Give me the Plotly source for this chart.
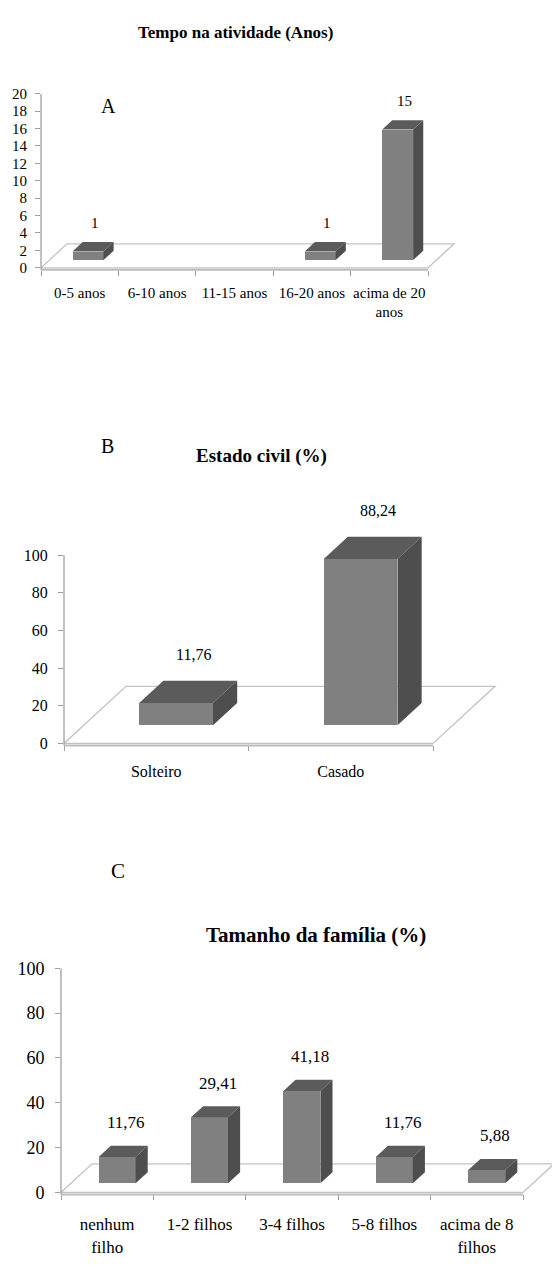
import plotly.graph_objects as go

W, H = 552, 1267
FONT = "Liberation Serif, Times New Roman, DejaVu Serif, serif"

# ---- data -------------------------------------------------------------
tempo_cats = ["0-5 anos", "6-10 anos", "11-15 anos", "16-20 anos", "acima de 20<br>anos"]
tempo_vals = [1, 0, 0, 1, 15]

civil_cats = ["Solteiro", "Casado"]
civil_vals = [11.76, 88.24]

familia_cats = ["nenhum<br>filho", "1-2 filhos", "3-4 filhos", "5-8 filhos", "acima de 8<br>filhos"]
familia_vals = [11.76, 29.41, 41.18, 11.76, 5.88]

# ---- styling / layout of each panel ---------------------------------
# box = (left px, px of the top tick, right px of front floor edge, px of zero)
panels = [
    dict(cats=tempo_cats, vals=tempo_vals, ymax=20, dtick=2, yroom=20,
         box=(41, 85, 428, 261.5), ext=0.36,
         fs_tick=15, fs_cat=15, fs_val=15, decimals=0, label_gap=19,
         title="Tempo na atividade (Anos)", title_pos=(235, 23), title_fs=17,
         letter="A", letter_pos=(108, 97), letter_fs=20,
         cat_standoff=12, y_standoff=5),
    dict(cats=civil_cats, vals=civil_vals, ymax=100, dtick=20, yroom=118,
         box=(64, 553, 433, 744), ext=0.36,
         fs_tick=16, fs_cat=16, fs_val=16, decimals=2, label_gap=26,
         title="Estado civil (%)", title_pos=(261, 452), title_fs=19,
         letter="B", letter_pos=(107, 442), letter_fs=20,
         cat_standoff=15, y_standoff=7),
    dict(cats=familia_cats, vals=familia_vals, ymax=100, dtick=20, yroom=100,
         box=(61, 972, 523, 1199.5), ext=0.314,
         fs_tick=18, fs_cat=17, fs_val=17, decimals=2, label_gap=23,
         title="Tamanho da família (%)", title_pos=(316, 938), title_fs=21,
         letter="C", letter_pos=(118, 873), letter_fs=21,
         cat_standoff=18, y_standoff=7),
]

FRONT_C = "#808080"
TOP_C = "#5b5b5b"
SIDE_C = "#4e4e4e"
YAXIS_C = "#a0a0a0"
XAXIS_C = "#bcbcbc"
FLOOR_C = "#c2c2c2"

BAR_W = 0.4            # bar width in category units
DEPTH_X = 0.336        # floor depth, horizontal, in category units
DEPTH_Y_RATIO = 0.314  # floor depth, vertical px per category px
F0, F1 = 0.32, 0.71    # front / back of the bars inside the floor depth
LABEL_DX = 0.2         # value label offset in category units

fig = go.Figure()
shapes = []
annotations = []

for k, p in enumerate(panels):
    sfx = "" if k == 0 else str(k + 1)
    xref, yref = "x" + sfx, "y" + sfx
    cats, vals = p["cats"], p["vals"]
    n = len(cats)
    left, top, front_right, zero = p["box"]
    catpx = (front_right - left) / n
    right = min(front_right + p["ext"] * catpx, W)
    ext = (right - front_right) / catpx
    py = (zero - top) / p["ymax"]
    pad = 2.0 / py
    top_px = zero - p["yroom"] * py
    dx = DEPTH_X
    dy = DEPTH_Y_RATIO * catpx / py

    # front faces of the bars
    fig.add_trace(go.Bar(
        x=cats, y=vals, base=F0 * dy, width=BAR_W, offset=-BAR_W / 2 + F0 * dx,
        marker=dict(color=FRONT_C, line=dict(width=0)),
        xaxis=xref, yaxis=yref, hoverinfo="skip", showlegend=False,
    ))

    # floor
    shapes.append(dict(
        type="path", xref=xref, yref=yref, layer="below",
        path=f"M {-0.5} 0 L {n - 0.5} 0 L {n - 0.5 + dx} {dy} L {-0.5 + dx} {dy} Z",
        fillcolor="white", line=dict(color=FLOOR_C, width=1.3),
    ))
    # x axis line along the front edge of the floor
    shapes.append(dict(
        type="line", xref=xref, yref=yref + " domain",
        x0=-0.5, x1=n - 0.5, y0=0, y1=0,
        line=dict(color=XAXIS_C, width=2),
    ))
    # y axis line, from the x axis up to the top tick
    shapes.append(dict(
        type="line", xref=xref + " domain", yref=yref,
        x0=0, x1=0, y0=-pad, y1=p["ymax"],
        line=dict(color=YAXIS_C, width=1.3),
    ))

    for i, v in enumerate(vals):
        if v <= 0:
            continue
        xl0 = i - BAR_W / 2 + F0 * dx
        xr0 = i + BAR_W / 2 + F0 * dx
        yb0 = F0 * dy
        yt0 = yb0 + v
        ddx = (F1 - F0) * dx
        ddy = (F1 - F0) * dy
        # top face
        shapes.append(dict(
            type="path", xref=xref, yref=yref, layer="above",
            path=f"M {xl0} {yt0} L {xr0} {yt0} L {xr0 + ddx} {yt0 + ddy} L {xl0 + ddx} {yt0 + ddy} Z",
            fillcolor=TOP_C, line=dict(width=0),
        ))
        # side face
        shapes.append(dict(
            type="path", xref=xref, yref=yref, layer="above",
            path=f"M {xr0} {yb0} L {xr0} {yt0} L {xr0 + ddx} {yt0 + ddy} L {xr0 + ddx} {yb0 + ddy} Z",
            fillcolor=SIDE_C, line=dict(width=0),
        ))
        txt = f"{v:.{p['decimals']}f}".replace(".", ",")
        annotations.append(dict(
            x=i + LABEL_DX, y=yt0 + ddy, xref=xref, yref=yref,
            text=txt, showarrow=False, yanchor="middle", yshift=p["label_gap"],
            font=dict(family=FONT, size=p["fs_val"], color="black"),
        ))

    # title and panel letter
    tx, ty = p["title_pos"]
    annotations.append(dict(
        x=tx / W, y=1 - ty / H, xref="paper", yref="paper", showarrow=False,
        text=f"<b>{p['title']}</b>", xanchor="center", yanchor="middle",
        font=dict(family=FONT, size=p["title_fs"], color="black"),
    ))
    lx, ly = p["letter_pos"]
    annotations.append(dict(
        x=lx / W, y=1 - ly / H, xref="paper", yref="paper", showarrow=False,
        text=p["letter"], xanchor="center", yanchor="middle",
        font=dict(family=FONT, size=p["letter_fs"], color="black"),
    ))

    fig.layout["xaxis" + sfx] = dict(
        domain=[left / W, min(right / W, 1.0)], anchor=yref,
        type="category", categoryorder="array", categoryarray=cats,
        range=[-0.5, n - 0.5 + ext], tickson="boundaries", tickangle=0,
        ticks="outside", ticklen=5, tickwidth=1, tickcolor=YAXIS_C,
        showline=False, showgrid=False, zeroline=False, fixedrange=True,
        ticklabelstandoff=p["cat_standoff"],
        tickfont=dict(family=FONT, size=p["fs_cat"], color="black"),
    )
    fig.layout["yaxis" + sfx] = dict(
        domain=[1 - (zero + 2) / H, 1 - top_px / H], anchor=xref,
        range=[-pad, p["yroom"]],
        tickvals=list(range(0, p["ymax"] + 1, p["dtick"])),
        ticks="outside", ticklen=5, tickwidth=1, tickcolor=YAXIS_C,
        showline=False, showgrid=False, zeroline=False, fixedrange=True,
        ticklabelstandoff=p["y_standoff"],
        tickfont=dict(family=FONT, size=p["fs_tick"], color="black"),
    )

fig.update_layout(
    width=W, height=H, autosize=False,
    margin=dict(l=0, r=0, t=0, b=0),
    paper_bgcolor="white", plot_bgcolor="white",
    showlegend=False, bargap=0,
    shapes=shapes, annotations=annotations,
)

fig.write_html("out.html")
